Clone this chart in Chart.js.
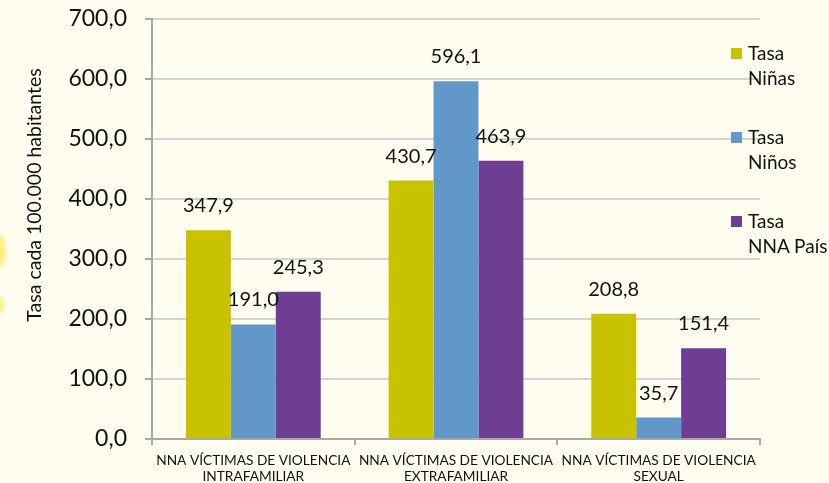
<!DOCTYPE html>
<html>
<head>
<meta charset="utf-8">
<script src="https://cdn.jsdelivr.net/npm/chart.js@4"></script>
<style>
  html, body { margin: 0; padding: 0; background: #fffdf0; }
  #wrap { position: relative; width: 829px; height: 483px; overflow: hidden; }
  .blob { position: absolute; border-radius: 50%; background: rgba(255, 238, 100, 0.8); filter: blur(1.5px); }
  #legend { position: absolute; left: 731px; top: 40px; font-family: Lato, sans-serif;
            font-size: 19px; line-height: 25px; color: #111; white-space: nowrap; }
  #legend .item { position: relative; padding-left: 17px; height: 84px; }
  #legend .sw { position: absolute; left: 0; top: 8px; width: 11px; height: 11px; }
</style>
</head>
<body>
<div id="wrap">
  <div class="blob" style="left:-9px;top:234px;width:15px;height:34px"></div>
  <div class="blob" style="left:-7px;top:296px;width:11px;height:18px"></div>
  <canvas id="c" width="829" height="483"></canvas>
  <div id="legend"></div>
</div>
<script>
const categories = [
  ['NNA VÍCTIMAS DE VIOLENCIA', 'INTRAFAMILIAR'],
  ['NNA VÍCTIMAS DE VIOLENCIA', 'EXTRAFAMILIAR'],
  ['NNA VÍCTIMAS DE VIOLENCIA', 'SEXUAL']
];
const seriesNames = [['Tasa', 'Niñas'], ['Tasa', 'Niños'], ['Tasa', 'NNA País']];
const tasaNinas = [347.9, 430.7, 208.8];
const tasaNinos = [191.0, 596.1, 35.7];
const tasaPais = [245.3, 463.9, 151.4];
const colors = ['#c9c200', '#6198c9', '#6f3d92'];
const yTitle = 'Tasa cada 100.000 habitantes';

const FONT = 'Lato, sans-serif';
const fmt = v => v.toFixed(1).replace('.', ',');

// value labels above each bar + the rotated y title (sits a bit above centre)
const barLabels = {
  id: 'barLabels',
  afterDatasetsDraw(chart) {
    const ctx = chart.ctx;
    ctx.save();
    ctx.font = '20px ' + FONT;
    ctx.fillStyle = '#111';
    ctx.textAlign = 'center';
    ctx.textBaseline = 'alphabetic';
    chart.data.datasets.forEach((ds, i) => {
      chart.getDatasetMeta(i).data.forEach((bar, j) => {
        ctx.fillText(fmt(ds.data[j]), bar.x, bar.y - 18);
      });
    });
    ctx.translate(35, 195);
    ctx.rotate(-Math.PI / 2);
    ctx.textBaseline = 'middle';
    ctx.font = '19.5px ' + FONT;
    ctx.fillText(yTitle, 0, 0);
    ctx.restore();
  }
};

const data = [tasaNinas, tasaNinos, tasaPais];
new Chart(document.getElementById('c'), {
  type: 'bar',
  data: {
    labels: categories,
    datasets: data.map((d, i) => ({
      label: seriesNames[i].join(' '),
      data: d,
      backgroundColor: colors[i],
      barPercentage: 1,
      categoryPercentage: 0.665
    }))
  },
  plugins: [barLabels],
  options: {
    responsive: false,
    animation: false,
    layout: { padding: { top: 19, right: 69, left: 0, bottom: 0 } },
    plugins: { legend: { display: false }, tooltip: { enabled: false } },
    scales: {
      x: {
        afterFit(s) { s.height = 44; s.paddingLeft = 0; s.paddingRight = 0; },
        grid: { display: true, drawOnChartArea: false, offset: true, tickLength: 6, color: '#a8a8a8', lineWidth: 2 },
        border: { color: '#a8a8a8', width: 2 },
        ticks: { color: '#111', autoSkip: false, font: { family: FONT, size: 13.7, lineHeight: 1.17 }, maxRotation: 0, padding: 8 }
      },
      y: {
        min: 0, max: 700,
        afterFit(s) { s.width = 152; s.paddingTop = 0; s.paddingBottom = 0; },
        grid: { color: '#d4d4d4', lineWidth: 2, tickLength: 7, tickColor: '#a8a8a8' },
        border: { color: '#a8a8a8', width: 2 },
        ticks: { stepSize: 100, color: '#111', padding: 18, font: { family: FONT, size: 23 }, callback: v => fmt(v) }
      }
    }
  }
});

// legend, stacked on the right over the grid
const leg = document.getElementById('legend');
seriesNames.forEach((n, i) => {
  const it = document.createElement('div');
  it.className = 'item';
  it.innerHTML = '<span class="sw" style="background:' + colors[i] + '"></span>' + n[0] + '<br>' + n[1];
  leg.appendChild(it);
});
</script>
</body>
</html>
